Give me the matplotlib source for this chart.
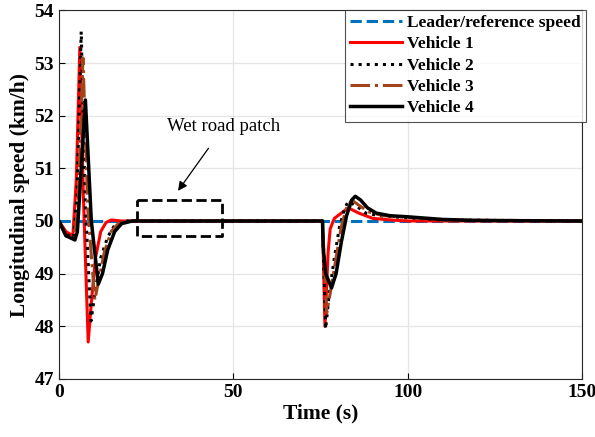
import matplotlib
matplotlib.use("Agg")
import matplotlib.pyplot as plt

plt.rcParams['font.family'] = ['Liberation Serif', 'DejaVu Serif']

# reference speed
t_ref = [0, 150]
v_ref = [50, 50]

# vehicle 1
t_v1 = [0, 2, 4, 5, 6, 7, 8.4, 9.5, 10.5, 12, 13.5, 15, 18, 75.6,
        76.3, 77.2, 77.8, 79, 81, 83, 86, 90, 95, 100, 150]
v_v1 = [50, 49.8, 49.72, 50.8, 53.3, 50.5, 47.7, 48.6, 49.3, 49.8, 49.97, 50.02, 50.0, 50.0,
        48.0, 49.4, 49.85, 50.05, 50.15, 50.25, 50.15, 50.05, 50.02, 50.0, 50.0]

# vehicle 2
t_v2 = [0, 2, 4.2, 5.2, 6.4, 7.6, 9.2, 10.5, 12, 14, 16, 19, 75.6,
        76.5, 77.5, 79, 80.5, 82, 83, 85, 88, 92, 100, 110, 150]
v_v2 = [50, 49.75, 49.68, 50.5, 53.6, 50.3, 48.1, 48.7, 49.3, 49.7, 49.92, 50.0, 50.0,
        47.95, 48.6, 49.3, 49.9, 50.25, 50.37, 50.3, 50.15, 50.1, 50.06, 50.02, 50.0]

# vehicle 3
t_v3 = [0, 2, 4.4, 5.5, 6.9, 8.3, 10.3, 11.5, 13, 15, 17, 20, 75.6,
        76.8, 78, 79.5, 81, 82.5, 84, 86, 89, 93, 100, 110, 150]
v_v3 = [50, 49.72, 49.66, 50.3, 53.1, 50.2, 48.5, 48.9, 49.4, 49.8, 49.95, 50.0, 50.0,
        48.25, 48.7, 49.3, 49.9, 50.25, 50.4, 50.3, 50.17, 50.1, 50.07, 50.02, 50.0]

# vehicle 4
t_v4 = [0, 2, 4.6, 5.3, 7.6, 9.3, 11.3, 12.5, 14, 16, 18, 21, 75.6,
        75.8, 76.5, 78.2, 79.5, 81, 82.5, 84, 85, 86.5, 88.5, 91, 95, 100, 110, 120, 150]
v_v4 = [50, 49.72, 49.64, 49.8, 52.3, 50.0, 48.8, 49.0, 49.45, 49.8, 49.95, 50.0, 50.0,
        49.5, 49.0, 48.73, 49.0, 49.6, 50.1, 50.4, 50.47, 50.4, 50.25, 50.15, 50.1, 50.08, 50.03, 50.01, 50.0]

fig = plt.figure(figsize=(5.95, 4.37), dpi=100)
ax = fig.add_axes([0.099, 0.133, 0.879, 0.843])

ax.plot(t_ref, v_ref, '--', color='#0072BD', lw=2.2, label='Leader/reference speed')
ax.plot(t_v1, v_v1, '-', color='#FF0000', lw=2.2, label='Vehicle 1')
ax.plot(t_v2, v_v2, ':', color='black', lw=2.2, label='Vehicle 2')
ax.plot(t_v3, v_v3, '-.', color='#A2441C', lw=2.2, label='Vehicle 3')
ax.plot(t_v4, v_v4, '-', color='black', lw=2.5, label='Vehicle 4')

# wet road patch box
ax.plot([22.3, 46.9, 46.9, 22.3, 22.3], [50.39, 50.39, 49.71, 49.71, 50.39],
        '--', color='black', lw=2)
ax.annotate('Wet road patch', xy=(33.7, 50.53), xytext=(47.3, 51.79),
            ha='center', va='center', fontsize=13.5,
            arrowprops=dict(arrowstyle='-|>', color='black', lw=0.9, shrinkA=9))

ax.set_xlim(0, 150)
ax.set_ylim(47, 54)
ax.set_xticks([0, 50, 100, 150])
ax.set_yticks(range(47, 55))
ax.grid(True, color='#E5E5E5', lw=0.9)
ax.set_axisbelow(True)
ax.tick_params(direction='in', length=4, labelsize=14, top=False, right=False)
for lab in ax.get_xticklabels() + ax.get_yticklabels():
    lab.set_fontweight('bold')
for s in ax.spines.values():
    s.set_color('#262626')
ax.set_xlabel('Time (s)', fontsize=15.5, fontweight='bold', labelpad=2)
ax.set_ylabel('Longitudinal speed (km/h)', fontsize=15.5, fontweight='bold', labelpad=3)

leg = ax.legend(loc='upper right', bbox_to_anchor=(586 / 595, 1 - 9.5 / 437),
                bbox_transform=fig.transFigure, fancybox=False, edgecolor='#262626',
                prop={'weight': 'bold', 'size': 12.5}, handlelength=3.0,
                labelspacing=0.3, borderpad=0.3, handletextpad=0.3, borderaxespad=0)
leg.get_frame().set_linewidth(0.8)

fig.savefig('out.png', dpi=100)
